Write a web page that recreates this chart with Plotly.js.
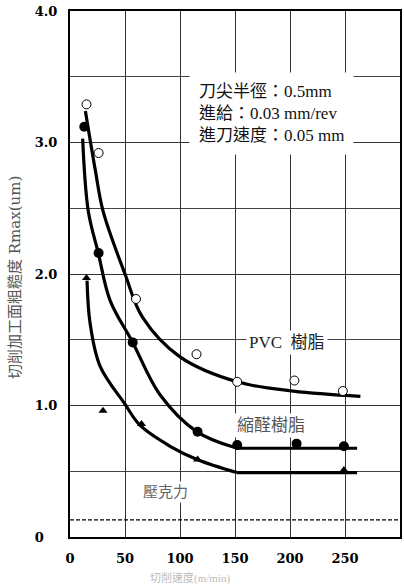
<!DOCTYPE html>
<html>
<head>
<meta charset="utf-8">
<script src="https://cdn.plot.ly/plotly-3.0.1.min.js"></script>
<style>
  html, body { margin: 0; padding: 0; background: #fff; }
  #chart { width: 404px; height: 585px; }
</style>
</head>
<body>
<div id="chart"></div>
<script>
// Measured roughness points for each resin (cutting speed vs Rmax)
const pvcX = [15, 26, 60, 115, 152, 204, 248];
const pvcY = [3.29, 2.92, 1.81, 1.39, 1.18, 1.19, 1.11];

const acetalX = [13, 26, 57, 116, 152, 206, 249];
const acetalY = [3.12, 2.16, 1.48, 0.80, 0.70, 0.71, 0.69];

const acrylicX = [15, 30, 65, 116, 249];
const acrylicY = [1.97, 0.96, 0.86, 0.59, 0.51];

// Hand-drawn trend curves
const pvcFitX = [14, 23, 30, 50, 66, 100, 152, 203, 264];
const pvcFitY = [3.24, 2.79, 2.48, 2.00, 1.67, 1.37, 1.18, 1.11, 1.07];

const acetalFitX = [11.5, 16.6, 25.7, 36.4, 57, 82, 115.5, 150];
const acetalFitY = [3.03, 2.48, 2.16, 1.80, 1.48, 1.08, 0.80, 0.68];
const acetalFlatX = [150, 261];
const acetalFlatY = [0.675, 0.675];

const acrylicFitX = [15.5, 18.2, 27.3, 50, 63.6, 91, 115.5, 151.8];
const acrylicFitY = [1.95, 1.63, 1.30, 1.01, 0.85, 0.69, 0.59, 0.49];
const acrylicFlatX = [151.8, 261];
const acrylicFlatY = [0.49, 0.49];

// Reference baseline (dashed)
const baseX = [0, 300];
const baseY = [0.13, 0.13];

// Axis ticks
const xTicks = [0, 50, 100, 150, 200, 250];
const yTicks = [0, 1, 2, 3, 4];
const yTickText = ['0\u00a0\u00a0\u00a0', '1.0', '2.0', '3.0', '4.0'];

const conditionLines = ['刀尖半徑：0.5mm', '進給：0.03 mm/rev', '進刀速度：0.05 mm'];

const serif = '"Liberation Serif", "Noto Sans CJK TC", serif';

function curve(x, y, shape) {
  return {
    x: x, y: y, type: 'scatter', mode: 'lines', hoverinfo: 'skip',
    line: { color: '#000', width: 3.2, shape: shape, smoothing: 1 }
  };
}

const traces = [
  { x: baseX, y: baseY, type: 'scatter', mode: 'lines', hoverinfo: 'skip',
    line: { color: '#000', width: 1.4, dash: '4px,2px' } },
  curve(pvcFitX, pvcFitY, 'spline'),
  curve(acetalFitX, acetalFitY, 'spline'),
  curve(acetalFlatX, acetalFlatY, 'linear'),
  curve(acrylicFitX, acrylicFitY, 'spline'),
  curve(acrylicFlatX, acrylicFlatY, 'linear'),
  { x: pvcX, y: pvcY, type: 'scatter', mode: 'markers', name: 'PVC',
    marker: { symbol: 'circle', size: 9, color: '#fff', line: { color: '#000', width: 1 } } },
  { x: acetalX, y: acetalY, type: 'scatter', mode: 'markers', name: '縮醛',
    marker: { symbol: 'circle', size: 10, color: '#000' } },
  { x: acrylicX, y: acrylicY, type: 'scatter', mode: 'markers', name: '壓克力',
    marker: { symbol: 'triangle-up', size: 8, color: '#000' } }
];

const tickFont = { family: '"DejaVu Serif", serif', size: 13, color: '#000', weight: 'bold' };

const layout = {
  width: 404, height: 585,
  margin: { l: 70, r: 4, t: 11, b: 48 },
  paper_bgcolor: '#fff', plot_bgcolor: '#fff',
  showlegend: false,
  xaxis: {
    range: [0, 300], tickvals: xTicks, ticks: '',
    showgrid: true, gridcolor: '#333', gridwidth: 1,
    showline: true, linecolor: '#000', linewidth: 2, mirror: true,
    zeroline: false, tickfont: tickFont, ticklabelstandoff: 8, fixedrange: true
  },
  yaxis: {
    range: [0, 4], tickvals: yTicks, ticktext: yTickText, ticks: '',
    showgrid: true, gridcolor: '#333', gridwidth: 1,
    minor: { dtick: 0.5, showgrid: true, gridcolor: '#444', gridwidth: 1 },
    showline: true, linecolor: '#000', linewidth: 2, mirror: true,
    zeroline: false, tickfont: tickFont, ticklabelstandoff: 8, fixedrange: true
  },
  annotations: [
    { xref: 'x', yref: 'y', x: 183, y: 3.22, xanchor: 'center', yanchor: 'middle',
      align: 'left', showarrow: false, bgcolor: '#fff', borderpad: 9,
      text: conditionLines.join('<br>'),
      font: { family: serif, size: 17, color: '#111' } },
    { xref: 'x', yref: 'y', x: 197, y: 1.48, showarrow: false,
      text: 'PVC  樹脂', bgcolor: '#fff', borderpad: 2,
      font: { family: serif, size: 17, color: '#222' } },
    { xref: 'x', yref: 'y', x: 183, y: 0.85, showarrow: false,
      text: '縮醛樹脂', bgcolor: '#fff', borderpad: 2,
      font: { family: serif, size: 17, color: '#555' } },
    { xref: 'x', yref: 'y', x: 87, y: 0.34, showarrow: false,
      text: '壓克力', bgcolor: '#fff', borderpad: 2,
      font: { family: serif, size: 15, color: '#666' } },
    { xref: 'paper', yref: 'paper', x: -0.167, y: 0.494, showarrow: false,
      textangle: -90, xanchor: 'center', yanchor: 'middle',
      text: '切削加工面粗糙度 Rmax(um)',
      font: { family: '"DejaVu Serif", "Noto Sans CJK TC", serif', size: 15, color: '#555' } },
    { xref: 'paper', yref: 'paper', x: 0.364, y: -0.078, showarrow: false,
      xanchor: 'center', yanchor: 'middle',
      text: '切削速度(m/min)',
      font: { family: serif, size: 11, color: '#bbb' } }
  ]
};

Plotly.newPlot('chart', traces, layout, { displayModeBar: false, staticPlot: true });
</script>
</body>
</html>
